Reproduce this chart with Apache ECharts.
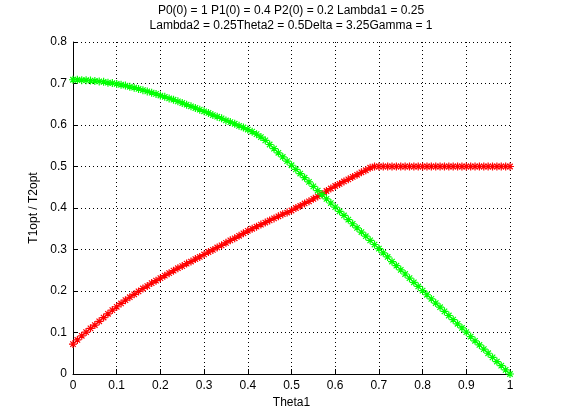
<!DOCTYPE html>
<html>
<head>
<meta charset="utf-8">
<script src="https://cdn.jsdelivr.net/npm/echarts@6/dist/echarts.min.js"></script>
<style>
html,body{margin:0;padding:0;background:#fff;}
#c{width:561px;height:420px;}
</style>
</head>
<body>
<div id="c"></div>
<script>
var titleLines = ['P0(0) = 1 P1(0) = 0.4 P2(0) = 0.2 Lambda1 = 0.25', 'Lambda2 = 0.25Theta2 = 0.5Delta = 3.25Gamma = 1'];
var xLabel = 'Theta1';
var yLabel = 'T1opt / T2opt';

var theta1 = [0.00,0.01,0.02,0.03,0.04,0.05,0.06,0.07,0.08,0.09,
  0.10,0.11,0.12,0.13,0.14,0.15,0.16,0.17,0.18,0.19,
  0.20,0.21,0.22,0.23,0.24,0.25,0.26,0.27,0.28,0.29,
  0.30,0.31,0.32,0.33,0.34,0.35,0.36,0.37,0.38,0.39,
  0.40,0.41,0.42,0.43,0.44,0.45,0.46,0.47,0.48,0.49,
  0.50,0.51,0.52,0.53,0.54,0.55,0.56,0.57,0.58,0.59,
  0.60,0.61,0.62,0.63,0.64,0.65,0.66,0.67,0.68,0.69,
  0.70,0.71,0.72,0.73,0.74,0.75,0.76,0.77,0.78,0.79,
  0.80,0.81,0.82,0.83,0.84,0.85,0.86,0.87,0.88,0.89,
  0.90,0.91,0.92,0.93,0.94,0.95,0.96,0.97,0.98,0.99,1.00];

var t1opt = [0.072,0.082,0.092,0.101,0.110,0.118,0.127,0.136,0.145,0.154,
  0.162,0.170,0.178,0.185,0.192,0.199,0.206,0.212,0.219,0.225,
  0.231,0.237,0.243,0.249,0.255,0.260,0.266,0.271,0.277,0.282,
  0.288,0.294,0.299,0.305,0.310,0.316,0.322,0.327,0.333,0.339,
  0.345,0.350,0.355,0.360,0.365,0.370,0.375,0.380,0.385,0.389,
  0.394,0.400,0.405,0.411,0.416,0.422,0.428,0.434,0.441,0.447,
  0.453,0.458,0.464,0.469,0.475,0.480,0.486,0.491,0.497,0.500,
  0.500,0.500,0.500,0.500,0.500,0.500,0.500,0.500,0.500,0.500,
  0.500,0.500,0.500,0.500,0.500,0.500,0.500,0.500,0.500,0.500,
  0.500,0.500,0.500,0.500,0.500,0.500,0.500,0.500,0.500,0.500,0.500];

var t2opt = [0.709,0.709,0.708,0.708,0.707,0.706,0.705,0.704,0.702,0.701,
  0.699,0.697,0.695,0.692,0.690,0.687,0.684,0.681,0.678,0.675,
  0.671,0.668,0.664,0.661,0.657,0.653,0.649,0.645,0.641,0.637,
  0.633,0.629,0.624,0.620,0.616,0.611,0.607,0.603,0.598,0.594,
  0.589,0.584,0.578,0.571,0.563,0.553,0.543,0.533,0.523,0.513,
  0.503,0.493,0.483,0.473,0.463,0.452,0.442,0.432,0.422,0.412,
  0.402,0.392,0.382,0.372,0.362,0.352,0.342,0.332,0.322,0.312,
  0.302,0.292,0.282,0.271,0.261,0.251,0.241,0.231,0.221,0.211,
  0.201,0.191,0.181,0.171,0.161,0.151,0.141,0.131,0.121,0.111,
  0.101,0.090,0.080,0.070,0.060,0.050,0.040,0.030,0.020,0.010,0.000];

function pairs(xs, ys){ var out=[]; for(var i=0;i<xs.length;i++) out.push([xs[i], ys[i]]); return out; }

var FONT = '"Liberation Sans", Arial, sans-serif';
var starPath = 'path://M0,5H10M5,0V10M1.6,1.6L8.4,8.4M8.4,1.6L1.6,8.4';

function seriesOf(name, data, color){
  return {
    name: name, type: 'line', data: data,
    symbol: starPath, symbolSize: 8, showSymbol: true,
    itemStyle: {color: 'rgba(0,0,0,0)', borderColor: color, borderWidth: 1.2},
    lineStyle: {color: color, width: 1},
    emphasis: {disabled: true},
    animation: false, silent: true, z: 3
  };
}

var chart = echarts.init(document.getElementById('c'), null, {renderer: 'canvas'});
chart.setOption({
  backgroundColor: '#ffffff',
  animation: false,
  title: {
    text: titleLines.join('\n'),
    left: 291, top: 3, padding: 0, textAlign: 'center',
    textStyle: {fontFamily: FONT, fontSize: 12, fontWeight: 'normal', color: '#000', lineHeight: 15}
  },
  grid: {left: 73, right: 51, top: 42, bottom: 46, containLabel: false},
  xAxis: {
    type: 'value', min: 0, max: 1, interval: 0.1,
    name: xLabel, nameLocation: 'middle', nameGap: 23,
    nameTextStyle: {fontFamily: FONT, fontSize: 12, color: '#000'},
    axisLine: {show: true, onZero: false, lineStyle: {color: '#000', width: 1}},
    axisTick: {show: true, inside: true, length: 5, lineStyle: {color: '#000'}},
    axisLabel: {fontFamily: FONT, fontSize: 12, color: '#000', margin: 6},
    splitLine: {show: true, lineStyle: {color: '#000', width: 1, type: [1, 3]}}
  },
  yAxis: {
    type: 'value', min: 0, max: 0.8, interval: 0.1,
    name: yLabel, nameLocation: 'middle', nameGap: 32,
    nameTextStyle: {fontFamily: FONT, fontSize: 12, color: '#000'},
    axisLine: {show: true, onZero: false, lineStyle: {color: '#000', width: 1}},
    axisTick: {show: true, inside: true, length: 5, lineStyle: {color: '#000'}},
    axisLabel: {fontFamily: FONT, fontSize: 12, color: '#000', margin: 6},
    splitLine: {show: true, lineStyle: {color: '#000', width: 1, type: [1, 3]}}
  },
  series: [
    seriesOf('T1opt', pairs(theta1, t1opt), '#ff0000'),
    seriesOf('T2opt', pairs(theta1, t2opt), '#00ff00')
  ]
});
</script>
</body>
</html>
